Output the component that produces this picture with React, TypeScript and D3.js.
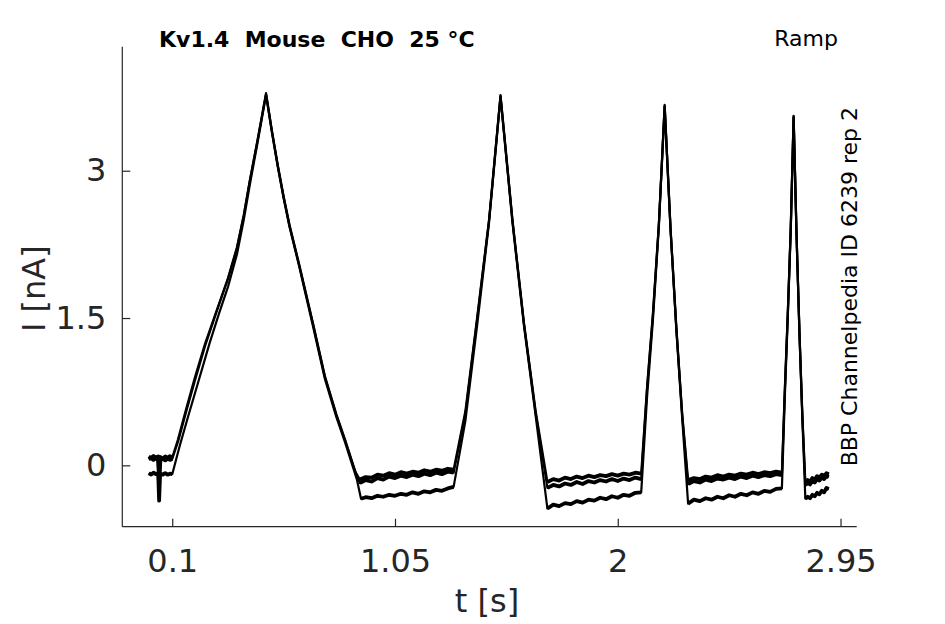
import { useEffect, useRef } from 'react';
import * as d3 from 'd3';

type Pt = [number, number];

const X_TICKS = [0.1, 1.05, 2, 2.95];
const Y_TICKS = [0, 1.5, 3];
const X_DOMAIN: [number, number] = [-0.113, 3.019];
const Y_DOMAIN: [number, number] = [-0.625, 4.263];
// holding periods between the ramps, drawn a bit heavier (noisy band)
const HOLD_WINDOWS: [number, number][] = [[0, 0.1], [0.9, 1.3], [1.7, 2.1], [2.3, 2.7], [2.8, 2.9]];

const sweepA: Pt[] = [
  [0, 0.09], [0.01, 0.075], [0.02, 0.095], [0.03, 0.08], [0.04, 0.09], [0.044, -0.22], [0.048, 0.085],
  [0.06, 0.07], [0.07, 0.09], [0.08, 0.078], [0.09, 0.093], [0.1, 0.08],
  [0.124, 0.26], [0.16, 0.58], [0.197, 0.9], [0.24, 1.24], [0.29, 1.58], [0.338, 1.91], [0.376, 2.22],
  [0.405, 2.55], [0.431, 2.9], [0.465, 3.33], [0.5, 3.79],
  [0.525, 3.41], [0.55, 3.06], [0.575, 2.74], [0.6, 2.45], [0.64, 2.06], [0.7, 1.45], [0.751, 0.91],
  [0.8, 0.52], [0.836, 0.27], [0.88, -0.06], [0.9, -0.145],
  [0.925, -0.12], [0.95, -0.125], [0.975, -0.095], [1.0, -0.105], [1.025, -0.08], [1.05, -0.095],
  [1.075, -0.07], [1.1, -0.085], [1.125, -0.065], [1.15, -0.075], [1.175, -0.05], [1.2, -0.065],
  [1.225, -0.045], [1.25, -0.055], [1.275, -0.035], [1.3, -0.045],
  [1.35, 0.55], [1.4, 1.5], [1.451, 2.5], [1.5, 3.77],
  [1.551, 2.5], [1.6, 1.45], [1.65, 0.55], [1.7, -0.17],
  [1.725, -0.14], [1.75, -0.155], [1.775, -0.125], [1.8, -0.14], [1.825, -0.115], [1.85, -0.13],
  [1.875, -0.105], [1.9, -0.12], [1.925, -0.1], [1.95, -0.11], [1.975, -0.09], [2.0, -0.105],
  [2.025, -0.085], [2.05, -0.095], [2.075, -0.075], [2.1, -0.085],
  [2.125, 0.8], [2.15, 1.55], [2.175, 2.45], [2.2, 3.67],
  [2.225, 2.42], [2.25, 1.4], [2.275, 0.52], [2.3, -0.15],
  [2.325, -0.13], [2.35, -0.14], [2.375, -0.115], [2.4, -0.125], [2.425, -0.1], [2.45, -0.115],
  [2.475, -0.095], [2.5, -0.105], [2.525, -0.085], [2.55, -0.095], [2.575, -0.075], [2.6, -0.09],
  [2.625, -0.07], [2.65, -0.08], [2.675, -0.065], [2.7, -0.075],
  [2.7125, 0.78], [2.725, 1.55], [2.7375, 2.4], [2.75, 3.56],
  [2.7625, 2.35], [2.775, 1.35], [2.7875, 0.5], [2.8, -0.17],
  [2.81, -0.15], [2.82, -0.165], [2.83, -0.13], [2.84, -0.145], [2.85, -0.11], [2.86, -0.125],
  [2.87, -0.095], [2.88, -0.11], [2.89, -0.08], [2.9, -0.09],
];

const sweepB: Pt[] = [
  [0, 0.06], [0.01, 0.075], [0.02, 0.055], [0.03, 0.07], [0.04, 0.06], [0.045, -0.1], [0.05, 0.06],
  [0.06, 0.065], [0.07, 0.05], [0.08, 0.068], [0.09, 0.055], [0.1, 0.065],
  [0.126, 0.25], [0.162, 0.57], [0.2, 0.89], [0.242, 1.23], [0.29, 1.57], [0.338, 1.9], [0.376, 2.21],
  [0.405, 2.54], [0.431, 2.9], [0.465, 3.32], [0.5, 3.78],
  [0.525, 3.4], [0.55, 3.05], [0.575, 2.73], [0.6, 2.44], [0.64, 2.05], [0.7, 1.44], [0.751, 0.9],
  [0.8, 0.51], [0.836, 0.26], [0.883, -0.08], [0.9, -0.18],
  [0.925, -0.15], [0.95, -0.165], [0.975, -0.13], [1.0, -0.145], [1.025, -0.115], [1.05, -0.13],
  [1.075, -0.105], [1.1, -0.12], [1.125, -0.095], [1.15, -0.11], [1.175, -0.085], [1.2, -0.1],
  [1.225, -0.075], [1.25, -0.09], [1.275, -0.065], [1.3, -0.075],
  [1.35, 0.52], [1.4, 1.48], [1.451, 2.49], [1.5, 3.76],
  [1.551, 2.49], [1.6, 1.44], [1.65, 0.53], [1.7, -0.23],
  [1.725, -0.2], [1.75, -0.215], [1.775, -0.185], [1.8, -0.2], [1.825, -0.17], [1.85, -0.19],
  [1.875, -0.16], [1.9, -0.175], [1.925, -0.15], [1.95, -0.165], [1.975, -0.14], [2.0, -0.16],
  [2.025, -0.135], [2.05, -0.15], [2.075, -0.125], [2.1, -0.14],
  [2.125, 0.78], [2.15, 1.53], [2.175, 2.44], [2.2, 3.66],
  [2.225, 2.41], [2.25, 1.39], [2.275, 0.5], [2.3, -0.19],
  [2.325, -0.16], [2.35, -0.175], [2.375, -0.145], [2.4, -0.16], [2.425, -0.135], [2.45, -0.145],
  [2.475, -0.125], [2.5, -0.14], [2.525, -0.115], [2.55, -0.13], [2.575, -0.105], [2.6, -0.12],
  [2.625, -0.1], [2.65, -0.11], [2.675, -0.09], [2.7, -0.1],
  [2.7125, 0.76], [2.725, 1.53], [2.7375, 2.39], [2.75, 3.55],
  [2.7625, 2.34], [2.775, 1.34], [2.7875, 0.48], [2.8, -0.2],
  [2.81, -0.18], [2.82, -0.195], [2.83, -0.16], [2.84, -0.175], [2.85, -0.14], [2.86, -0.155],
  [2.87, -0.125], [2.88, -0.14], [2.89, -0.11], [2.9, -0.12],
];

const sweepC: Pt[] = [
  [0, -0.08], [0.01, -0.095], [0.02, -0.075], [0.03, -0.09], [0.04, -0.08], [0.044, -0.36], [0.048, -0.085],
  [0.06, -0.095], [0.07, -0.08], [0.08, -0.095], [0.09, -0.085], [0.1, -0.09],
  [0.132, 0.2], [0.168, 0.5], [0.205, 0.8], [0.26, 1.25], [0.3, 1.55], [0.338, 1.82], [0.376, 2.15],
  [0.405, 2.5], [0.431, 2.86], [0.465, 3.3], [0.5, 3.77],
  [0.525, 3.39], [0.55, 3.04], [0.575, 2.72], [0.6, 2.43], [0.64, 2.04], [0.7, 1.42], [0.751, 0.88],
  [0.8, 0.49], [0.836, 0.24], [0.887, -0.14], [0.905, -0.34],
  [0.925, -0.325], [0.95, -0.335], [0.975, -0.31], [1.0, -0.32], [1.025, -0.3], [1.05, -0.31],
  [1.075, -0.29], [1.1, -0.3], [1.125, -0.275], [1.15, -0.29], [1.175, -0.265], [1.2, -0.275],
  [1.225, -0.25], [1.25, -0.26], [1.275, -0.235], [1.3, -0.22],
  [1.35, 0.45], [1.4, 1.42], [1.451, 2.47], [1.5, 3.75],
  [1.551, 2.47], [1.6, 1.42], [1.65, 0.5], [1.7, -0.44],
  [1.725, -0.4], [1.75, -0.415], [1.775, -0.385], [1.8, -0.395], [1.825, -0.365], [1.85, -0.38],
  [1.875, -0.35], [1.9, -0.36], [1.925, -0.33], [1.95, -0.345], [1.975, -0.315], [2.0, -0.33],
  [2.025, -0.3], [2.05, -0.31], [2.075, -0.28], [2.1, -0.275],
  [2.125, 0.7], [2.15, 1.48], [2.175, 2.42], [2.2, 3.65],
  [2.225, 2.4], [2.25, 1.37], [2.275, 0.47], [2.3, -0.39],
  [2.325, -0.35], [2.35, -0.365], [2.375, -0.335], [2.4, -0.35], [2.425, -0.32], [2.45, -0.335],
  [2.475, -0.305], [2.5, -0.32], [2.525, -0.29], [2.55, -0.305], [2.575, -0.275], [2.6, -0.29],
  [2.625, -0.26], [2.65, -0.27], [2.675, -0.24], [2.7, -0.235],
  [2.7125, 0.7], [2.725, 1.5], [2.7375, 2.37], [2.75, 3.54],
  [2.7625, 2.33], [2.775, 1.33], [2.7875, 0.46], [2.8, -0.34],
  [2.81, -0.32], [2.82, -0.335], [2.83, -0.3], [2.84, -0.315], [2.85, -0.28], [2.86, -0.295],
  [2.87, -0.26], [2.88, -0.275], [2.89, -0.23], [2.9, -0.24],
];

const SWEEPS = [sweepA, sweepB, sweepC];

const W = 945;
const H = 624;
const AX = { left: 122.3, right: 856.7, top: 46.7, bottom: 526.7 };
const AXIS_COLOR = '#262626';
const FONT = 'DejaVu Sans, Verdana, sans-serif';

export default function App() {
  const svgRef = useRef<SVGSVGElement>(null);

  useEffect(() => {
    const svg = svgRef.current;
    if (!svg) return;
    const root = d3.select(svg);
    root.selectAll('*').remove();

    const x = d3.scaleLinear().domain(X_DOMAIN).range([AX.left, AX.right]);
    const y = d3.scaleLinear().domain(Y_DOMAIN).range([AX.bottom, AX.top]);

    // Traces
    const line = d3.line<Pt>().x(d => x(d[0])).y(d => y(d[1]));
    const traces = root.append('g');
    SWEEPS.forEach(s => {
      traces.append('path').attr('d', line(s)).attr('fill', 'none').attr('stroke', '#000')
        .attr('stroke-width', 2.2).attr('stroke-linejoin', 'round');
      HOLD_WINDOWS.forEach(([t0, t1]) => {
        const part = s.filter(d => d[0] >= t0 - 1e-9 && d[0] <= t1 + 1e-9);
        traces.append('path').attr('d', line(part)).attr('fill', 'none').attr('stroke', '#000')
          .attr('stroke-width', 3.8).attr('stroke-linejoin', 'round');
      });
    });

    // Axes
    const xAxis = d3.axisBottom(x).tickValues(X_TICKS).tickSizeInner(-8).tickSizeOuter(0).tickPadding(23)
      .tickFormat(d => `${d}`);
    const yAxis = d3.axisLeft(y).tickValues(Y_TICKS).tickSizeInner(-8).tickSizeOuter(0).tickPadding(16)
      .tickFormat(d => `${d}`);

    const xG = root.append('g').attr('transform', `translate(0,${AX.bottom})`).call(xAxis);
    xG.select('.domain').attr('d', `M${AX.left},0H${AX.right}`).attr('stroke', AXIS_COLOR).attr('stroke-width', 1.2);
    xG.selectAll('line').attr('stroke', AXIS_COLOR).attr('stroke-width', 1.2);
    xG.selectAll('text').attr('fill', AXIS_COLOR).attr('font-family', FONT).attr('font-size', 32);

    const yG = root.append('g').attr('transform', `translate(${AX.left},0)`).call(yAxis);
    yG.select('.domain').attr('d', `M0,${AX.top}V${AX.bottom}`).attr('stroke', AXIS_COLOR).attr('stroke-width', 1.2);
    yG.selectAll('line').attr('stroke', AXIS_COLOR).attr('stroke-width', 1.2);
    yG.selectAll('text').attr('fill', AXIS_COLOR).attr('font-family', FONT).attr('font-size', 32);

    // Labels
    root.append('text').attr('x', 487).attr('y', 612).attr('text-anchor', 'middle')
      .attr('fill', AXIS_COLOR).attr('font-family', FONT).attr('font-size', 32).text('t [s]');
    root.append('text').attr('transform', `translate(45,${(AX.top + AX.bottom) / 2 + 2}) rotate(-90)`)
      .attr('text-anchor', 'middle').attr('fill', AXIS_COLOR).attr('font-family', FONT).attr('font-size', 32)
      .text('I [nA]');

    root.append('text').attr('x', 159).attr('y', 46.7).attr('fill', '#000').attr('font-family', FONT)
      .attr('font-size', 22).attr('font-weight', 'bold').style('white-space', 'pre')
      .text('Kv1.4  Mouse  CHO  25 °C');
    root.append('text').attr('x', 838).attr('y', 46).attr('text-anchor', 'end').attr('fill', '#000')
      .attr('font-family', FONT).attr('font-size', 22).text('Ramp');
    root.append('text').attr('transform', `translate(857,${(AX.top + AX.bottom) / 2}) rotate(-90)`)
      .attr('text-anchor', 'middle').attr('fill', '#000').attr('font-family', FONT).attr('font-size', 22)
      .text('BBP Channelpedia ID 6239 rep 2');
  }, []);

  return (
    <svg ref={svgRef} width={W} height={H} viewBox={`0 0 ${W} ${H}`}
      style={{ position: 'absolute', left: 0, top: 0, background: '#fff', display: 'block' }} />
  );
}
